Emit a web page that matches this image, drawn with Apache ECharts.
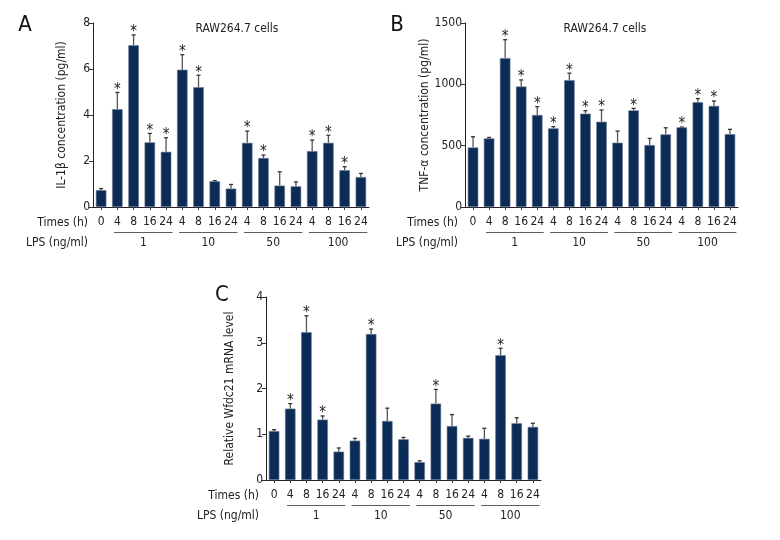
<!DOCTYPE html>
<html>
<head>
<meta charset="utf-8">
<script src="https://cdn.jsdelivr.net/npm/echarts@6/dist/echarts.min.js"></script>
<style>
  html, body { margin: 0; padding: 0; background: #fff; }
  #chart { width: 780px; height: 540px; }
</style>
</head>
<body>
<div id="chart"></div>
<script>
// x categories (time in hours) and LPS dose groups
var times = ['0', '4', '8', '16', '24', '4', '8', '16', '24', '4', '8', '16', '24', '4', '8', '16', '24'];
var lpsLabels = ['1', '10', '50', '100'];
var lpsStart = [1, 5, 9, 13];
var lpsEnd = [4, 8, 12, 16];

// A: IL-1beta (pg/ml)
var il1b = [0.73, 4.25, 7.03, 2.81, 2.4, 5.97, 5.21, 1.12, 0.8, 2.79, 2.13, 0.93, 0.9, 2.43, 2.79, 1.6, 1.3];
var il1bSd = [0.07, 0.73, 0.45, 0.39, 0.61, 0.65, 0.52, 0.03, 0.18, 0.51, 0.13, 0.6, 0.19, 0.48, 0.33, 0.15, 0.16];
var il1bSig = [0, 1, 1, 1, 1, 1, 1, 0, 0, 1, 1, 0, 0, 1, 1, 1, 0];

// B: TNF-alpha (pg/ml)
var tnf = [485, 559, 1214, 982, 750, 641, 1034, 761, 695, 524, 788, 505, 592, 649, 854, 824, 594];
var tnfSd = [88, 8, 150, 54, 68, 14, 57, 24, 96, 95, 16, 54, 54, 3, 30, 40, 39];
var tnfSig = [0, 0, 1, 1, 1, 1, 1, 1, 1, 0, 1, 0, 0, 1, 1, 1, 0];

// C: relative Wfdc21 mRNA
var wfdc = [1.07, 1.56, 3.23, 1.32, 0.62, 0.86, 3.19, 1.29, 0.89, 0.39, 1.67, 1.18, 0.92, 0.9, 2.73, 1.24, 1.16];
var wfdcSd = [0.03, 0.11, 0.36, 0.08, 0.08, 0.05, 0.11, 0.28, 0.04, 0.03, 0.31, 0.25, 0.04, 0.23, 0.15, 0.12, 0.08];
var wfdcSig = [0, 1, 1, 1, 0, 0, 1, 0, 0, 0, 1, 0, 0, 0, 1, 0, 0];

var FONT = '"Liberation Sans Narrow", "DejaVu Sans Condensed", "Roboto", sans-serif';
var NAVY = '#0c2c58';

var chart = echarts.init(document.getElementById('chart'));

function xAxisFor(i) {
  return {
    type: 'category', gridIndex: i, data: times,
    axisLine: { lineStyle: { color: '#222', width: 1 } },
    axisTick: { show: true, alignWithLabel: true, length: 3, lineStyle: { color: '#333' } },
    axisLabel: { interval: 0, fontFamily: FONT, fontSize: 12, color: '#222', margin: 9 }
  };
}

function yAxisFor(i, max, step, name, gap) {
  return {
    type: 'value', gridIndex: i, min: 0, max: max, interval: step,
    name: name, nameLocation: 'middle', nameGap: gap,
    nameTextStyle: { fontFamily: FONT, fontSize: 12, color: '#222' },
    splitLine: { show: false },
    axisLine: { show: true, lineStyle: { color: '#222', width: 1 } },
    axisTick: { show: true, length: 4, lineStyle: { color: '#333' } },
    axisLabel: { fontFamily: FONT, fontSize: 12, color: '#222', margin: 3, formatter: function (v) { return String(v); } }
  };
}

function panelSeries(i, means, sds, sig) {
  var errData = means.map(function (m, k) { return [k, m, m + sds[k], sig[k]]; });
  return [
    {
      type: 'bar', xAxisIndex: i, yAxisIndex: i, data: means, barWidth: 10.5,
      itemStyle: { color: NAVY, borderColor: '#6a7890', borderWidth: 0.6 },
      silent: true
    },
    {
      type: 'custom', xAxisIndex: i, yAxisIndex: i, data: errData, silent: true, z: 1,
      renderItem: function (params, api) {
        var lo = api.coord([api.value(0), api.value(1)]);
        var hi = api.coord([api.value(0), api.value(2)]);
        var kids = [
          { type: 'line', shape: { x1: lo[0], y1: lo[1], x2: hi[0], y2: hi[1] }, style: { stroke: '#555', lineWidth: 1.3 } },
          { type: 'line', shape: { x1: hi[0] - 2, y1: hi[1], x2: hi[0] + 2, y2: hi[1] }, style: { stroke: '#333', lineWidth: 1.3 } }
        ];
        if (api.value(3)) {
          kids.push({ type: 'text', style: { text: '*', x: hi[0], y: hi[1] + 5, textAlign: 'center', textVerticalAlign: 'bottom', fontSize: 15, fontFamily: FONT, fill: '#222' } });
        }
        return { type: 'group', children: kids };
      }
    },
    {
      type: 'custom', xAxisIndex: i, yAxisIndex: i, data: lpsLabels.map(function (l, k) { return [lpsStart[k], lpsEnd[k], l]; }),
      silent: true, clip: false,
      renderItem: function (params, api) {
        var a = api.coord([api.value(0), 0]);
        var b = api.coord([api.value(1), 0]);
        var band = api.size([1, 0])[0];
        var x1 = a[0] - band * 0.2, x2 = b[0] + band * 0.4;
        return {
          type: 'group', children: [
            { type: 'line', shape: { x1: x1, y1: a[1] + 25.5, x2: x2, y2: a[1] + 25.5 }, style: { stroke: '#333', lineWidth: 0.8 } },
            { type: 'text', style: { text: lpsLabels[params.dataIndex], x: (x1 + x2) / 2, y: a[1] + 36, textAlign: 'center', textVerticalAlign: 'middle', fontSize: 12, fontFamily: FONT, fill: '#222' } }
          ]
        };
      }
    }
  ];
}

function rowTitles(xr, yAxisPx) {
  return [
    { type: 'text', style: { text: 'Times (h)', x: xr, y: yAxisPx + 16, textAlign: 'right', textVerticalAlign: 'middle', fontSize: 12, fontFamily: FONT, fill: '#222' } },
    { type: 'text', style: { text: 'LPS (ng/ml)', x: xr, y: yAxisPx + 36, textAlign: 'right', textVerticalAlign: 'middle', fontSize: 12, fontFamily: FONT, fill: '#222' } }
  ];
}

function letter(t, x, y) {
  return { type: 'text', style: { text: t, x: x, y: y, textAlign: 'center', textVerticalAlign: 'middle', fontSize: 22, fontFamily: FONT, fill: '#111' } };
}

var option = {
  animation: false,
  backgroundColor: '#fff',
  title: [
    { text: 'RAW264.7 cells', left: 232, top: 18, textAlign: 'center', textStyle: { fontFamily: FONT, fontSize: 12, fontWeight: 'normal', color: '#222' } },
    { text: 'RAW264.7 cells', left: 600, top: 18, textAlign: 'center', textStyle: { fontFamily: FONT, fontSize: 12, fontWeight: 'normal', color: '#222' } }
  ],
  grid: [
    { left: 93, top: 23, width: 276, height: 184 },
    { left: 465, top: 23, width: 273, height: 184 },
    { left: 266, top: 297, width: 275, height: 183 }
  ],
  xAxis: [xAxisFor(0), xAxisFor(1), xAxisFor(2)],
  yAxis: [
    yAxisFor(0, 8, 2, 'IL-1β concentration (pg/ml)', 25),
    yAxisFor(1, 1500, 500, 'TNF-α concentration (pg/ml)', 34),
    yAxisFor(2, 4, 1, 'Relative Wfdc21 mRNA level', 30)
  ],
  graphic: [].concat(
    rowTitles(88, 207), rowTitles(458, 207), rowTitles(259, 480),
    [letter('A', 25, 25), letter('B', 397, 25), letter('C', 222, 295)]
  ),
  series: [].concat(
    panelSeries(0, il1b, il1bSd, il1bSig),
    panelSeries(1, tnf, tnfSd, tnfSig),
    panelSeries(2, wfdc, wfdcSd, wfdcSig)
  )
};

chart.setOption(option);
</script>
</body>
</html>
